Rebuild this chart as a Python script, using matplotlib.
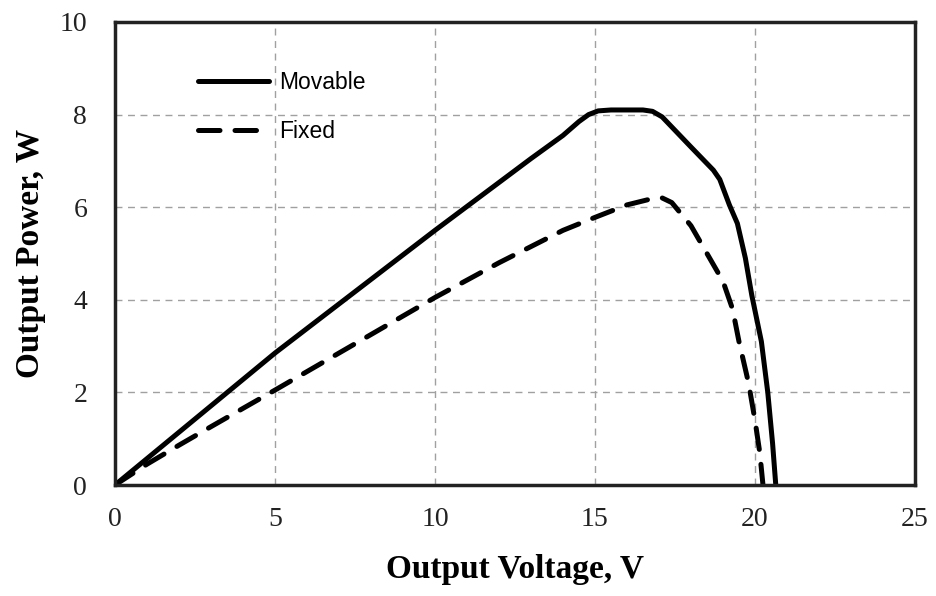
import numpy as np
import matplotlib.pyplot as plt

# P-V curves of the PV panel, movable vs fixed mounting
v_movable = [0, 1, 5, 10, 13, 14, 14.5, 14.8, 15.1, 15.5, 16.5, 16.8, 17.1, 18.0, 18.7, 18.9,
             19.2, 19.45, 19.7, 19.9, 20.2, 20.4, 20.55, 20.65]
p_movable = [0, 0.57, 2.85, 5.5, 7.05, 7.55, 7.85, 8.0, 8.08, 8.1, 8.1, 8.07, 7.95, 7.3, 6.8, 6.6,
             6.05, 5.65, 4.9, 4.1, 3.1, 2.0, 0.9, 0]

v_fixed = [0, 1, 2, 3, 5, 10, 12, 14, 15, 16, 16.7, 17.1, 17.4, 17.7, 18.0, 18.5, 19.0, 19.3,
           19.5, 19.8, 20.0, 20.15, 20.25]
p_fixed = [0, 0.45, 0.86, 1.26, 2.05, 4.05, 4.8, 5.5, 5.78, 6.05, 6.17, 6.2, 6.1, 5.85, 5.6,
           5.0, 4.4, 3.8, 3.1, 2.2, 1.4, 0.7, 0]

x_ticks = [0, 5, 10, 15, 20, 25]
y_ticks = [0, 2, 4, 6, 8, 10]

fig = plt.figure(figsize=(9.37, 5.96), dpi=100)
ax = fig.add_axes([0.1227, 0.1862, 0.8538, 0.7769])

ax.plot(v_movable, p_movable, color='black', lw=3.6, label='Movable',
        solid_joinstyle='round', solid_capstyle='round')
ax.plot(v_fixed, p_fixed, color='black', lw=3.6, dashes=(4.3, 3.0), label='Fixed',
        dash_joinstyle='round', dash_capstyle='round')

ax.set_xlim(0, 25)
ax.set_ylim(0, 10)
ax.set_xticks(x_ticks)
ax.set_yticks(y_ticks)
ax.grid(True, color='#a0a0a0', linestyle=(0, (5, 4)), linewidth=1)
ax.set_axisbelow(True)

for s in ax.spines.values():
    s.set_linewidth(2.5)
    s.set_color('#222222')

ax.tick_params(length=0, labelsize=20, labelcolor='#222222')
ax.tick_params(axis='y', pad=20)
ax.tick_params(axis='x', pad=16)
for lab in ax.get_xticklabels() + ax.get_yticklabels():
    lab.set_family('Liberation Serif')

ax.set_xlabel('Output Voltage, V', family='Liberation Serif', fontsize=24,
              fontweight='bold', labelpad=16)
ax.set_ylabel('Output Power, W', family='Liberation Serif', fontsize=24,
              fontweight='bold', labelpad=10)

ax.legend(loc='upper left', bbox_to_anchor=(0.104, 0.895), frameon=False,
          prop={'family': 'Liberation Sans', 'size': 16.5},
          handlelength=3.1, handletextpad=0.45, labelspacing=1.15,
          borderpad=0, borderaxespad=0)

fig.savefig('out.png', dpi=100)
